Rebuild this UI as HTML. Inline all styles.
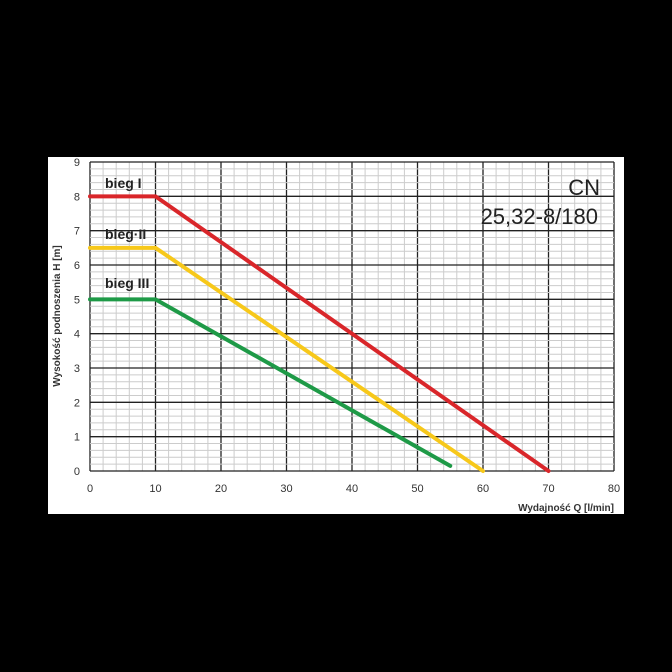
<!DOCTYPE html>
<html><head><meta charset="utf-8"><style>
html,body{margin:0;padding:0;background:#000;width:672px;height:672px;overflow:hidden}
svg{display:block}
text{font-family:"Liberation Sans",sans-serif}
</style></head><body>
<svg id="chart" width="672" height="672">
<rect x="48" y="157" width="576" height="357" fill="#fff"/>
<g id="grid"></g><g id="axes"></g><g id="series"></g>
<text x="105" y="188" font-size="14" font-weight="bold" fill="#222">bieg I</text>
<text x="105" y="239" font-size="14" font-weight="bold" fill="#222">bieg·II</text>
<text x="105" y="288" font-size="14" font-weight="bold" fill="#222">bieg III</text>
<text x="600" y="195" font-size="22" fill="#222" text-anchor="end">CN</text>
<text x="598" y="224" font-size="22" fill="#222" text-anchor="end">25,32-8/180</text>
<text x="614" y="511" font-size="10" font-weight="bold" fill="#333" text-anchor="end">Wydajność Q [l/min]</text>
<text transform="translate(60,316) rotate(-90)" font-size="10" font-weight="bold" fill="#333" text-anchor="middle">Wysokość podnoszenia H [m]</text>
</svg>
<script>
const xTicks=[0,10,20,30,40,50,60,70,80];
const yTicks=[0,1,2,3,4,5,6,7,8,9];
const s1Q=[0,10,70], s1H=[8,8,0];
const s2Q=[0,10,60], s2H=[6.5,6.5,0];
const s3Q=[0,10,55], s3H=[5,5,0.15];
const X0=90,X1=614,Y0=471,Y1=162;
const sx=v=>X0+(v-0)/80*(X1-X0);
const sy=v=>Y0-(v-0)/9*(Y0-Y1);
const NS="http://www.w3.org/2000/svg";
function mk(t,a,p){const e=document.createElementNS(NS,t);for(const k in a)e.setAttribute(k,a[k]);p.appendChild(e);return e;}
const g=document.getElementById('grid'),ax=document.getElementById('axes'),se=document.getElementById('series');
for(let v=0;v<=80;v+=2){const l=mk('line',{x1:sx(v),x2:sx(v),y1:Y1,y2:Y0,stroke:v%10?'#ccc':'#222','stroke-width':v%10?1:1.3},g);

}
for(let v=0;v<=9.001;v+=0.2){const r=Math.round(v*5);const major=r%5===0;const l=mk('line',{x1:X0,x2:X1,y1:sy(v),y2:sy(v),stroke:major?'#222':'#ccc','stroke-width':major?1.3:1},g);

}
xTicks.forEach(v=>{const t=mk('text',{x:sx(v),y:Y0+21,'font-size':11,fill:'#333','text-anchor':'middle'},ax);t.textContent=v;

});
yTicks.forEach(v=>{const t=mk('text',{x:X0-10,y:sy(v)+4,'font-size':11,fill:'#333','text-anchor':'end'},ax);t.textContent=v;

});
[[s1Q,s1H,'#d9262a','series-bieg-1'],[s2Q,s2H,'#f7c81a','series-bieg-2'],[s3Q,s3H,'#1e9a47','series-bieg-3']].forEach(([q,h,c,n])=>{
const p=mk('polyline',{points:q.map((v,i)=>sx(v)+','+sy(h[i])).join(' '),fill:'none',stroke:c,'stroke-width':4,'stroke-linecap':'round'},se);

});
</script>
</body></html>
